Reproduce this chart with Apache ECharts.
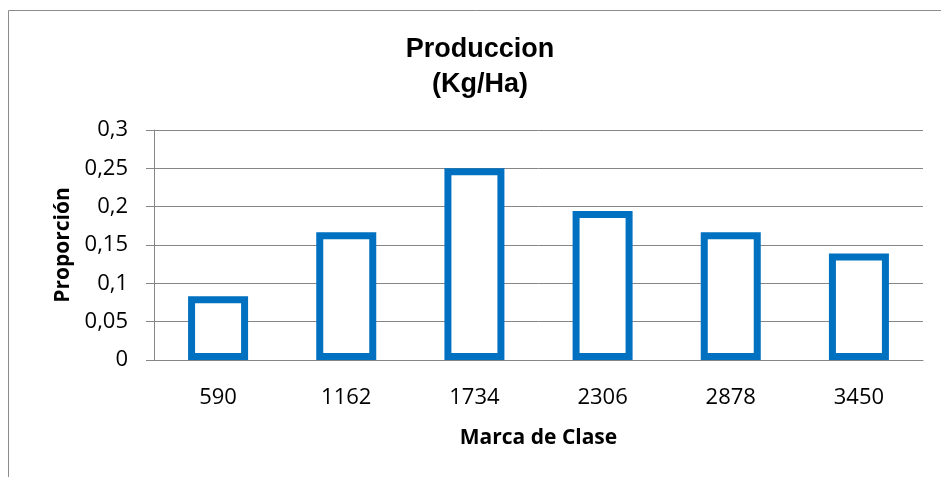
<!DOCTYPE html>
<html>
<head>
<meta charset="utf-8">
<script src="https://cdn.jsdelivr.net/npm/echarts@6/dist/echarts.min.js"></script>
<style>
html, body { margin: 0; padding: 0; background: #fff; }
#main { width: 941px; height: 477px; }
</style>
</head>
<body>
<div id="main"></div>
<script>
var categories = ['590', '1162', '1734', '2306', '2878', '3450'];
var proporcion = [0.0833, 0.1667, 0.25, 0.1944, 0.1667, 0.1389];
var yTicks = { min: 0, max: 0.3, interval: 0.05 };

var myChart = echarts.init(document.getElementById('main'));

var option = {
    backgroundColor: '#ffffff',
    animation: false,
    title: {
        text: 'Produccion\n(Kg/Ha)',
        left: 475,
        top: 27,
        textAlign: 'center',
        textStyle: {
            fontFamily: 'Liberation Sans',
            fontWeight: 'bold',
            fontSize: 27,
            lineHeight: 35,
            color: '#000'
        }
    },
    graphic: [{
        type: 'rect',
        shape: { x: 8.5, y: 10.5, width: 940, height: 470 },
        style: { fill: 'none', stroke: '#8c8c8c', lineWidth: 1 },
        silent: true
    }],
    grid: { left: 154, right: 18, top: 130, bottom: 117 },
    xAxis: {
        type: 'category',
        data: categories,
        name: 'Marca de Clase',
        nameLocation: 'middle',
        nameGap: 68,
        nameTextStyle: { fontFamily: 'Open Sans', fontWeight: 'bold', fontSize: 21, color: '#000' },
        axisLine: { lineStyle: { color: '#868686' } },
        axisTick: { show: false },
        axisLabel: { fontFamily: 'Open Sans', fontSize: 22, color: '#000', margin: 27 }
    },
    yAxis: {
        type: 'value',
        min: yTicks.min,
        max: yTicks.max,
        interval: yTicks.interval,
        name: 'Proporción',
        nameLocation: 'middle',
        nameGap: 80,
        nameRotate: 90,
        nameTextStyle: { fontFamily: 'Open Sans', fontWeight: 'bold', fontSize: 21, color: '#000' },
        axisLine: { show: true, lineStyle: { color: '#868686' } },
        axisTick: { show: true, length: 8, lineStyle: { color: '#868686' } },
        splitLine: { lineStyle: { color: '#868686' } },
        axisLabel: {
            fontFamily: 'Open Sans',
            fontSize: 22,
            color: '#000',
            margin: 26,
            formatter: function (v) { return String(+v.toFixed(2)).replace('.', ','); }
        }
    },
    series: [{
        type: 'bar',
        data: proporcion,
        barWidth: 60,
        itemStyle: {
            color: '#ffffff',
            borderColor: '#0070C0',
            borderWidth: 7
        }
    }]
};
myChart.setOption(option);
</script>
</body>
</html>
